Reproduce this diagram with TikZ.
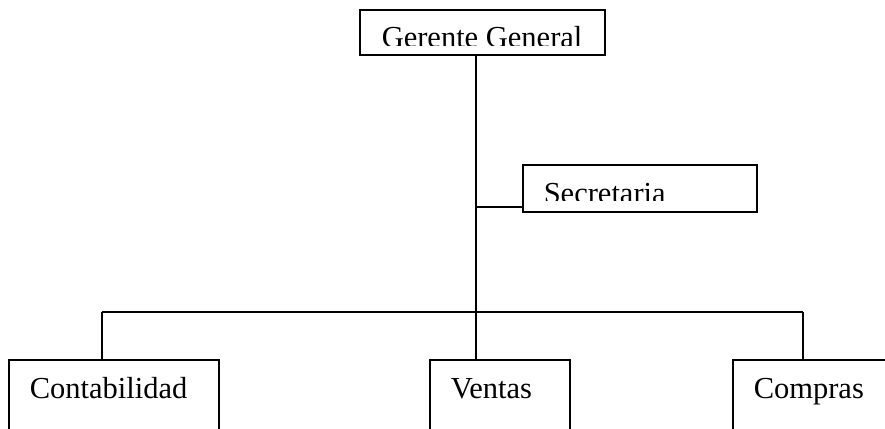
\documentclass[tikz,border=0pt]{standalone}
\usepackage{fontspec}
\setmainfont{Liberation Serif}
\begin{document}
\begin{tikzpicture}[x=1pt,y=-1pt,
  line width=1.5pt,
  unit/.style={draw, rectangle, inner sep=0pt, outer sep=0pt},
  label/.style={anchor=base west, inner sep=0pt, font=\fontsize{30.5}{36}\selectfont},
  link/.style={draw, line width=1.5pt}]
  \useasboundingbox (0,0) rectangle (885,428);
  \clip (0,0) rectangle (885,428);

  % boxes of the chart (the lower ones run past the page edge)
  \node[unit, minimum width=245pt, minimum height=45pt] (gg)  at (482.5,32.5) {};
  \node[unit, minimum width=234pt, minimum height=47pt] (sec) at (640,188.5) {};
  \node[unit, minimum width=210pt, minimum height=80pt] (cont) at (114,400) {};
  \node[unit, minimum width=140pt, minimum height=80pt] (vent) at (500,400) {};
  \node[unit, minimum width=160pt, minimum height=80pt] (comp) at (813,400) {};

  % titles of the upper boxes are cut off at the bottom
  \begin{scope}
    \clip (361,11) rectangle (604,46);
    \node[label] (ggt) at (381,48) {Gerente General};
  \end{scope}
  \begin{scope}
    \clip (524,166) rectangle (756,200);
    \node[label] (sect) at (543,203) {Secretaria};
  \end{scope}
  \node[label] (contt) at (29,398) {Contabilidad};
  \node[label] (ventt) at (450,398) {Ventas};
  \node[label] (compt) at (753,398) {Compras};

  % connectors
  \coordinate (trunk) at (476,312);
  \coordinate (tee)   at (476,207);
  \coordinate (busL)  at (102,312);
  \coordinate (busR)  at (803,312);
  \draw[link] (gg.south -| trunk) -- (trunk);
  \draw[link] (tee) -- (tee -| sec.west);
  \draw[link] (busL) -- (busR);
  \draw[link] (busL) -- (busL |- cont.north);
  \draw[link] (trunk) -- (trunk |- vent.north);
  \draw[link] (busR) -- (busR |- comp.north);
\end{tikzpicture}
\end{document}
